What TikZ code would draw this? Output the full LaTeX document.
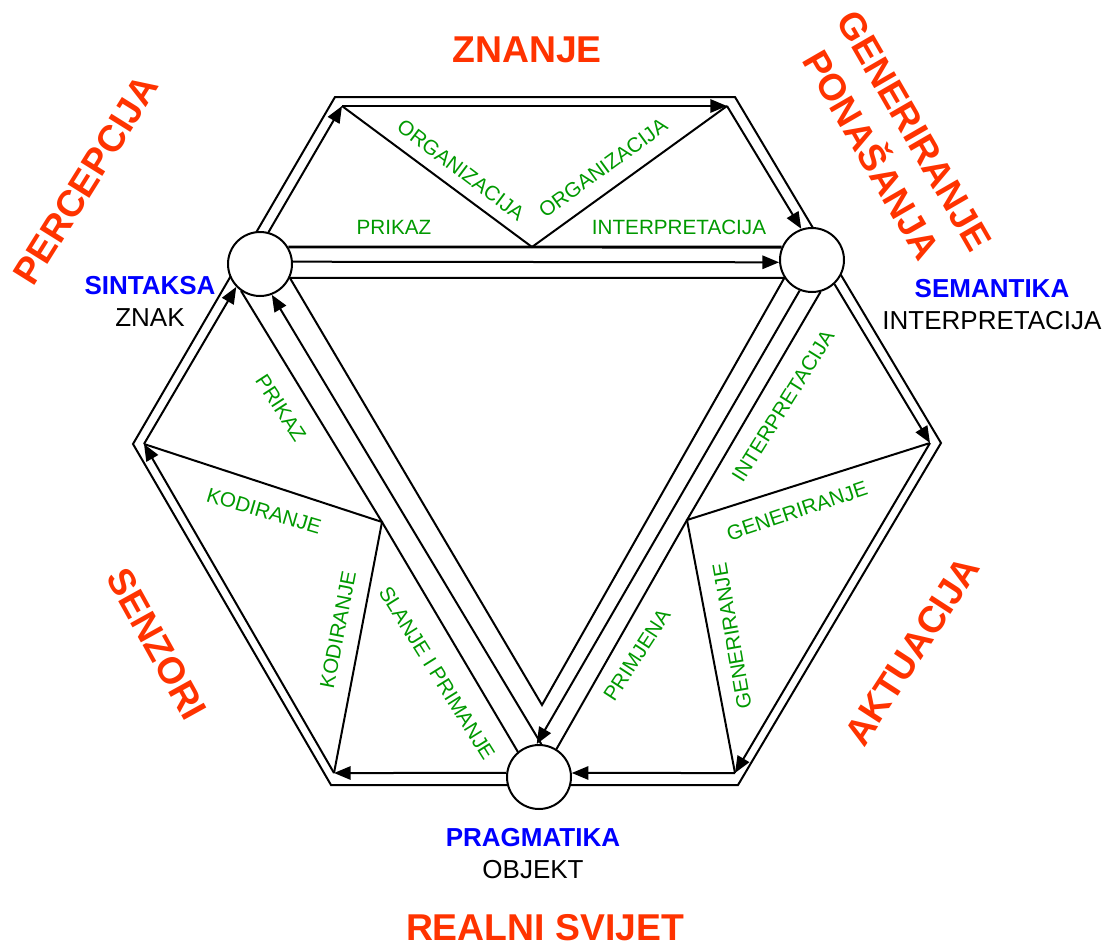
\documentclass[tikz,border=0pt]{standalone}
\usepackage{fontspec}
\setmainfont{Liberation Sans}
\usepackage{tikz}
\usetikzlibrary{arrows.meta,backgrounds}
\definecolor{hxred}{HTML}{FF3300}
\definecolor{hxgreen}{HTML}{009900}
\definecolor{hxblue}{HTML}{0000FF}
\tikzset{
  band/.style={line width=1.5pt, draw=black},
  heavyband/.style={line width=2.2pt, draw=black},
  flow/.style={-{Triangle[length=12.5pt,width=10pt]}, line width=1.5pt, draw=black},
  knot/.style={circle, draw=black, line width=1.5pt, fill=white,
    minimum size=48pt, inner sep=0pt},
  title/.style={font=\fontsize{28}{37}\selectfont\bfseries, text=hxred,
    align=center, inner sep=0pt},
  level/.style={font=\fontsize{19.5}{24}\selectfont, align=center, inner sep=0pt},
  process/.style={font=\fontsize{15.5}{18}\selectfont, text=hxgreen, inner sep=0pt}
}
\begin{document}
\begin{tikzpicture}[x=0.75pt,y=-0.75pt]
    \useasboundingbox (0,0) rectangle (1108,946);

    % hexagon, outer and inner corners
    \coordinate (hTL) at (335,97);
    \coordinate (hTR) at (735,97);
    \coordinate (hR) at (941,443);
    \coordinate (hBR) at (738,785);
    \coordinate (hBL) at (331,785);
    \coordinate (hL) at (133,444);
    \coordinate (iTL) at (342,106);
    \coordinate (iTR) at (727,106);
    \coordinate (iR) at (930,443);
    \coordinate (iBR) at (735,773);
    \coordinate (iBL) at (334,773);
    \coordinate (iL) at (144,444);
    \coordinate (org) at (532,247);
    \coordinate (kod) at (382,522);
    \coordinate (gen) at (687,520);
    \coordinate (tip) at (542,705);

    \node[knot] (sin) at (260,264) {};
    \node[knot] (sem) at (812,260) {};
    \node[knot] (prag) at (539,777) {};

    \begin{scope}[on background layer]
        \draw[band] (hTL) -- (hTR) -- (hR) -- (hBR) -- (hBL) -- (hL) -- cycle;

        \foreach \a/\b in {sin.75/iTL,iTL/iTR,iTR/sem.109,sem.313/iR,iR/iBR,iBR/prag.7,prag.173/iBL,iBL/iL,iL/sin.224}
            \draw[flow] (\a) -- (\b);

        % bands between the three levels
        \draw[heavyband] (sin.31) -- (org) -- (sem.157);
        \draw[band] (sin.335) -- (sem.213) -- (tip) -- cycle;
        \draw[band] (sin.235) -- (kod) -- (prag.130);
        \draw[band] (sem.285) -- (gen) -- (prag.58);
        \draw[flow] (sin.4) -- (sem.184);
        \draw[flow] (prag.86) -- (sin.291);
        \draw[flow] (sem.248) -- (prag.94);

        \draw[band] (iTL) -- (org) -- (iTR);
        \draw[band] (iL) -- (kod) -- (iBL);
        \draw[band] (iR) -- (gen) -- (iBR);
    \end{scope}

    \node[title] (znanje) at (527,50) {ZNANJE};
    \node[title, rotate=58] (percep) at (86,180) {PERCEPCIJA};
    \node[title, rotate=-60] (genpon) at (893,143) {GENERIRANJE\\PONAŠANJA};
    \node[title, rotate=-61] (senz) at (157,644) {SENZORI};
    \node[title, rotate=57] (aktu) at (912,651) {AKTUACIJA};
    \node[title] (svijet) at (545,928) {REALNI SVIJET};

    \node[level] (sinlab) at (150,301) {\textcolor{hxblue}{\bfseries SINTAKSA}\\ZNAK};
    \node[level] (semlab) at (992,305) {\textcolor{hxblue}{\bfseries SEMANTIKA}\\INTERPRETACIJA};
    \node[level] (praglab) at (533,854) {\textcolor{hxblue}{\bfseries PRAGMATIKA}\\OBJEKT};

    \node[process] (prikazT) at (394,227) {PRIKAZ};
    \node[process, rotate=-37] (orgL) at (461,170) {ORGANIZACIJA};
    \node[process, rotate=36] (orgR) at (603,168) {ORGANIZACIJA};
    \node[process] (interpT) at (679,227) {INTERPRETACIJA};
    \node[process, rotate=-57] (prikazL) at (281,408) {PRIKAZ};
    \node[process, rotate=-16.5] (kodH) at (264,511) {KODIRANJE};
    \node[process, rotate=79] (kodV) at (338,630) {KODIRANJE};
    \node[process, rotate=-58] (slanje) at (437,673) {SLANJE I PRIMANJE};
    \node[process, rotate=58] (interpR) at (783,406) {INTERPRETACIJA};
    \node[process, rotate=18.5] (genH) at (797,511) {GENERIRANJE};
    \node[process, rotate=100] (genV) at (732,636) {GENERIRANJE};
    \node[process, rotate=57] (primj) at (637,655) {PRIMJENA};
\end{tikzpicture}
\end{document}
